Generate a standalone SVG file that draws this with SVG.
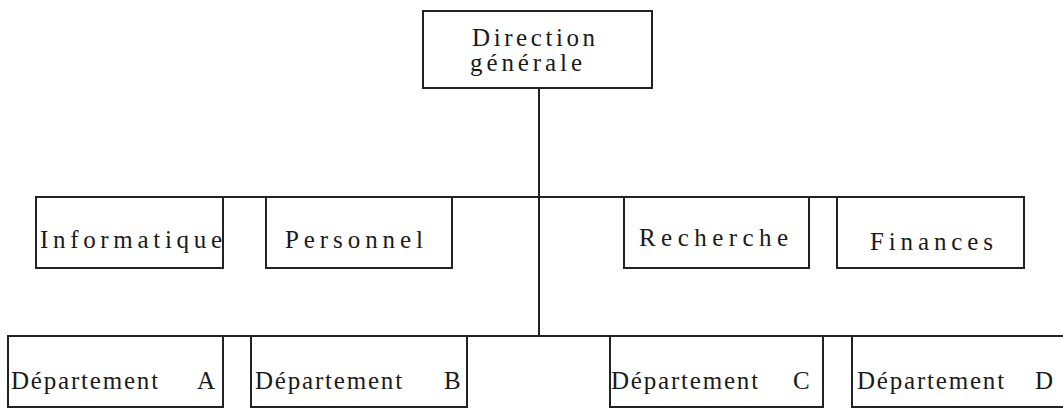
<svg xmlns="http://www.w3.org/2000/svg" width="1063" height="410" viewBox="0 0 1063 410">
<style>
  .box { fill: none; stroke: #222; stroke-width: 2; }
  .conn { fill: none; stroke: #222; stroke-width: 2; }
  .lbl { font-family: "Liberation Serif", "Times New Roman", serif; font-size: 25px; fill: #1a1a1a; }
  .dept { font-family: "Liberation Serif", "Times New Roman", serif; font-size: 25px; fill: #1a1a1a; letter-spacing: 1.8px; }
</style>
<rect width="1063" height="410" fill="#ffffff"/>
<g id="connectors">
  <line class="conn" x1="539" y1="88" x2="539" y2="336"/>
  <line class="conn" x1="36" y1="197" x2="1024" y2="197"/>
  <line class="conn" x1="8" y1="336" x2="1063" y2="336"/>
</g>
<g id="direction">
  <rect class="box" x="423" y="11" width="229" height="77"/>
  <text class="lbl" font-size="24" x="472" y="46" textLength="123" lengthAdjust="spacing">Direction</text>
  <text class="lbl" font-size="24" x="470" y="71" textLength="112" lengthAdjust="spacing">générale</text>
</g>
<g id="informatique">
  <rect class="box" x="36" y="197" width="187" height="71"/>
  <text class="lbl" x="40" y="248" textLength="182" lengthAdjust="spacing">Informatique</text>
</g>
<g id="personnel">
  <rect class="box" x="266" y="197" width="186" height="71"/>
  <text class="lbl" x="285" y="248" textLength="138" lengthAdjust="spacing">Personnel</text>
</g>
<g id="recherche">
  <rect class="box" x="624" y="197" width="185" height="71"/>
  <text class="lbl" x="639" y="246" textLength="149" lengthAdjust="spacing">Recherche</text>
</g>
<g id="finances">
  <rect class="box" x="837" y="197" width="187" height="71"/>
  <text class="lbl" x="870" y="250" textLength="123" lengthAdjust="spacing">Finances</text>
</g>
<g id="dept-a">
  <rect class="box" x="8" y="336" width="215" height="71"/>
  <text class="dept" x="11" y="389">Département <tspan x="197">A</tspan></text>
</g>
<g id="dept-b">
  <rect class="box" x="251" y="336" width="216" height="71"/>
  <text class="dept" x="255" y="389">Département <tspan x="444">B</tspan></text>
</g>
<g id="dept-c">
  <rect class="box" x="610" y="336" width="213" height="71"/>
  <text class="dept" x="611" y="389">Département <tspan x="793">C</tspan></text>
</g>
<g id="dept-d">
  <rect class="box" x="852" y="336" width="220" height="71"/>
  <text class="dept" x="857" y="389">Département <tspan x="1035">D</tspan></text>
</g>
</svg>
